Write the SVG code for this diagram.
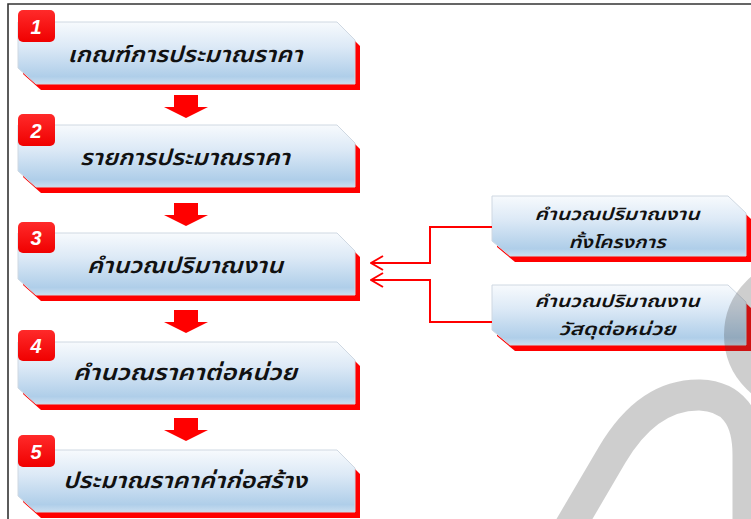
<svg xmlns="http://www.w3.org/2000/svg" width="751" height="519" viewBox="0 0 751 519">
  <defs>
    <linearGradient id="boxFill" x1="0" y1="0" x2="0" y2="1">
      <stop offset="0" stop-color="#f7fafd"/>
      <stop offset="0.4" stop-color="#dce9f6"/>
      <stop offset="0.88" stop-color="#afcee9"/>
      <stop offset="1" stop-color="#cadef0"/>
    </linearGradient>
    <linearGradient id="badgeFill" x1="0" y1="0" x2="0" y2="1">
      <stop offset="0" stop-color="#ff2a2a"/>
      <stop offset="1" stop-color="#f00000"/>
    </linearGradient>
    <!-- step box outline: bevelled top-right and bottom-left corners -->
    <path id="stepShape" d="M0,0 H319 L337,18 V62 H18 L0,46 Z"/>
    <path id="sideShape" d="M0,0 H236 L254,17 V60 H18 L0,45 Z"/>
    <path id="downArrow" d="M-12,0 H12 V12 H22 L0,23 L-22,12 H-12 Z"/>
    <marker id="chevron" viewBox="0 0 14 16" refX="13" refY="8" markerWidth="14" markerHeight="16" markerUnits="userSpaceOnUse" orient="auto">
      <path d="M1,1 L13,8 L1,15" fill="none" stroke="#ff0000" stroke-width="2"/>
    </marker>
  </defs>
  <style>
    .shadow { fill: #ff0000; }
    .face { fill: url(#boxFill); stroke: #cfd8e2; stroke-width: 1; }
    .badge { fill: url(#badgeFill); }
    .num { font-family: "Liberation Sans", Arial, sans-serif; font-size: 20px; font-weight: bold; font-style: italic; fill: #ffffff; text-anchor: middle; }
    .label { font-family: "Noto Sans Thai", "Noto Sans Thai UI", "Noto Sans", "DejaVu Sans", sans-serif; font-style: italic; font-weight: 600; fill: #111111; text-anchor: middle; }
    .main { font-size: 22px; }
    .side { font-size: 17px; }
    .arrow { fill: #ff0000; }
    .link { fill: none; stroke: #ff0000; stroke-width: 2; }
    .frame { stroke: #333333; stroke-width: 1.6; fill: none; }
    .mark { fill: none; stroke: #404040; stroke-opacity: 0.26; }
  </style>

  <rect width="751" height="519" fill="#ffffff"/>
  <path class="frame" d="M8,519 V4 H751"/>

  <!-- step 1 -->
  <g id="step1">
    <use href="#stepShape" class="shadow" transform="translate(23,28)"/>
    <use href="#stepShape" class="face" transform="translate(18,22)"/>
    <rect class="badge" x="18" y="10" width="37" height="32" rx="5"/>
    <text class="num" x="36" y="34">1</text>
    <text class="label main" x="185" y="62" textLength="235" lengthAdjust="spacingAndGlyphs">เกณฑ์การประมาณราคา</text>
  </g>

  <!-- step 2 -->
  <g id="step2">
    <use href="#stepShape" class="shadow" transform="translate(23,131)"/>
    <use href="#stepShape" class="face" transform="translate(18,125)"/>
    <rect class="badge" x="18" y="114" width="37" height="32" rx="5"/>
    <text class="num" x="36" y="138">2</text>
    <text class="label main" x="185" y="165" textLength="210" lengthAdjust="spacingAndGlyphs">รายการประมาณราคา</text>
  </g>

  <!-- step 3 -->
  <g id="step3">
    <use href="#stepShape" class="shadow" transform="translate(23,239)"/>
    <use href="#stepShape" class="face" transform="translate(18,233)"/>
    <rect class="badge" x="18" y="222" width="37" height="31" rx="5"/>
    <text class="num" x="36" y="245">3</text>
    <text class="label main" x="185" y="273" textLength="196" lengthAdjust="spacingAndGlyphs">คำนวณปริมาณงาน</text>
  </g>

  <!-- step 4 -->
  <g id="step4">
    <use href="#stepShape" class="shadow" transform="translate(23,348)"/>
    <use href="#stepShape" class="face" transform="translate(18,342)"/>
    <rect class="badge" x="18" y="330" width="37" height="31" rx="5"/>
    <text class="num" x="36" y="353">4</text>
    <text class="label main" x="185" y="380" textLength="224" lengthAdjust="spacingAndGlyphs">คำนวณราคาต่อหน่วย</text>
  </g>

  <!-- step 5 -->
  <g id="step5">
    <use href="#stepShape" class="shadow" transform="translate(23,456)"/>
    <use href="#stepShape" class="face" transform="translate(18,450)"/>
    <rect class="badge" x="18" y="435" width="37" height="32" rx="5"/>
    <text class="num" x="36" y="459">5</text>
    <text class="label main" x="185" y="488" textLength="244" lengthAdjust="spacingAndGlyphs">ประมาณราคาค่าก่อสร้าง</text>
  </g>

  <!-- inputs to step 3 -->
  <g id="inputWhole">
    <use href="#sideShape" class="shadow" transform="translate(497,202)"/>
    <use href="#sideShape" class="face" transform="translate(492,196)"/>
    <text class="label side" x="617" y="220" textLength="165" lengthAdjust="spacingAndGlyphs">คำนวณปริมาณงาน</text>
    <text class="label side" x="617" y="248" textLength="97" lengthAdjust="spacingAndGlyphs">ทั้งโครงการ</text>
  </g>

  <g id="inputUnit">
    <use href="#sideShape" class="shadow" transform="translate(497,291)"/>
    <use href="#sideShape" class="face" transform="translate(492,285)"/>
    <text class="label side" x="617" y="307" textLength="165" lengthAdjust="spacingAndGlyphs">คำนวณปริมาณงาน</text>
    <text class="label side" x="617" y="335" textLength="117" lengthAdjust="spacingAndGlyphs">วัสดุต่อหน่วย</text>
  </g>

  <!-- connectors -->
  <g id="connectors">
    <use href="#downArrow" class="arrow" transform="translate(186,95)"/>
    <use href="#downArrow" class="arrow" transform="translate(186,203)"/>
    <use href="#downArrow" class="arrow" transform="translate(186,310)"/>
    <use href="#downArrow" class="arrow" transform="translate(186,418)"/>
    <path class="link" d="M492,227 H430 V263 H371" marker-end="url(#chevron)"/>
    <path class="link" d="M492,322 H430 V280 H371" marker-end="url(#chevron)"/>
  </g>

  <!-- faint grey watermark strokes -->
  <g id="watermark">
    <path class="mark" stroke-width="31" d="M568,530 L612,455 Q648,394 700,395 Q748,397 748,455 V530"/>
    <circle class="mark" stroke-width="28" cx="800" cy="335" r="62"/>
  </g>
</svg>
